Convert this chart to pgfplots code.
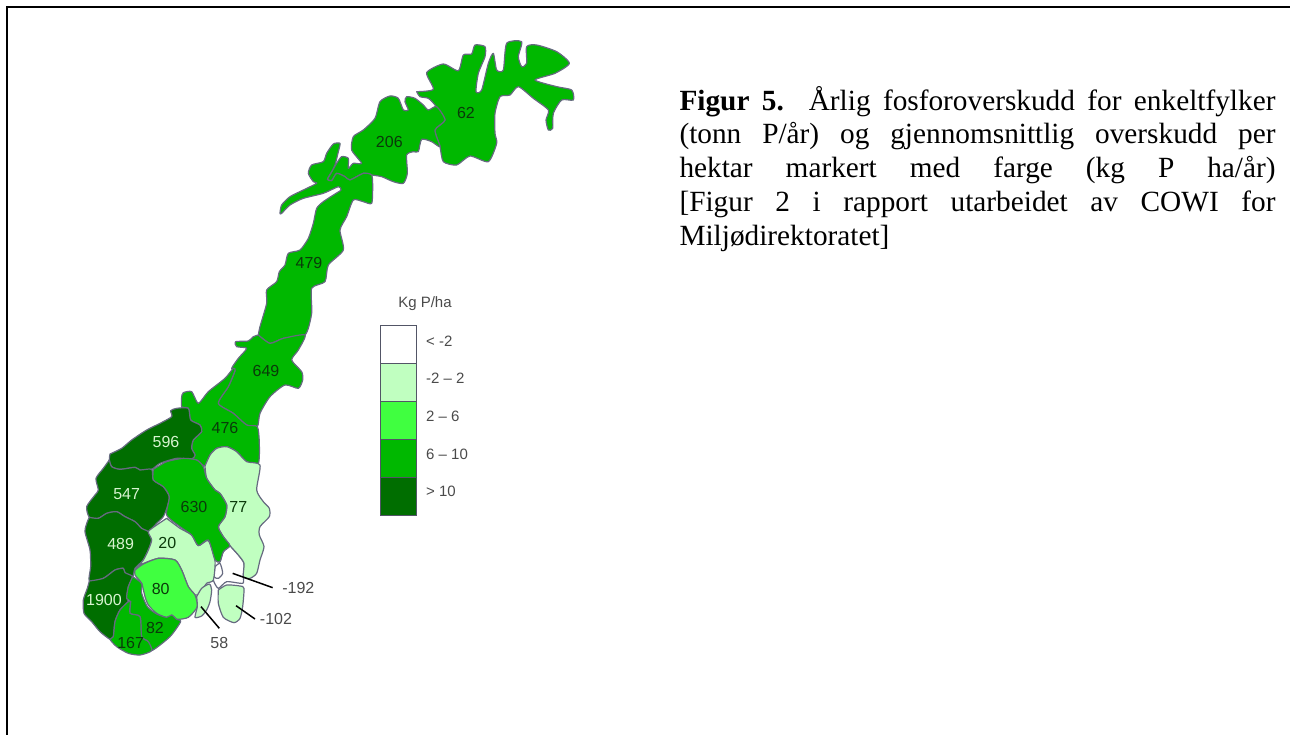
\documentclass[border=0pt]{standalone}
\usepackage{pgfplots}
\pgfplotsset{compat=1.18}
\usepackage{fontspec}
\setmainfont{Liberation Serif}
\newfontfamily\arial{Liberation Sans}
\definecolor{cLight}{HTML}{C0FFC0}
\definecolor{cBright}{HTML}{40FF40}
\definecolor{cMid}{HTML}{00B800}
\definecolor{cDark}{HTML}{006E00}
\definecolor{cEdge}{HTML}{666A80}
\definecolor{cTxt}{HTML}{4A4A4A}
\definecolor{cTxtD}{HTML}{0A3A0A}
\definecolor{cTxtL}{HTML}{D8F4D0}
\pgfplotsset{
  reg/.style={fill=#1,draw=cEdge,line width=1.2pt,line join=round,no markers,smooth,tension=0.4},
  leg/.style={fill=#1,draw=cEdge!80!black,line width=1pt,no markers},
}
\tikzset{
  lab/.style={font=\arial\fontsize{16}{16}\selectfont,inner sep=0pt,anchor=center},
  lg/.style={text=cTxt,inner sep=0pt,font=\arial\fontsize{15}{15}\selectfont},
}
\newcommand{\capline}[1]{\makebox[596pt][s]{#1}}
\begin{document}
\begin{tikzpicture}
\useasboundingbox (0,0) rectangle (1290pt,735pt);
\begin{axis}[at={(0,0)},anchor=south west,width=1290pt,height=735pt,scale only axis,
  xmin=0,xmax=3870,ymin=0,ymax=2205,y dir=reverse,hide axis,clip=false]
% frame
\addplot[black,line width=2pt,no markers] coordinates {(21,2205)(21,21)(3870,21)};
% Finnmark 62
\addplot[reg=cMid] coordinates {(1250,275)(1300,268)(1280,218)(1330,192)(1375,212)(1390,165)(1415,162)(1425,135)(1455,140)(1455,170)(1435,220)(1428,275)(1445,270)(1465,190)(1480,160)(1490,210)(1510,210)(1520,130)(1565,125)(1555,170)(1565,200)(1580,190)(1580,140)(1610,135)(1670,155)(1708,190)(1665,220)(1605,240)(1670,260)(1715,270)(1720,300)(1685,300)(1660,340)(1658,385)(1645,390)(1638,360)(1645,330)(1600,295)(1555,260)(1530,285)(1500,290)(1485,340)(1485,400)(1490,430)(1465,485)(1410,468)(1370,495)(1330,485)(1320,440)(1305,390)(1335,360)(1305,315)(1285,295)(1260,290)(1250,275)} -- cycle;
% Troms 206
\addplot[reg=cMid] coordinates {(982,538)(995,515)(1010,490)(1025,470)(1045,475)(1045,505)(1060,490)(1085,490)(1055,450)(1060,410)(1090,390)(1125,355)(1140,305)(1170,288)(1195,295)(1210,330)(1225,330)(1215,305)(1220,290)(1245,295)(1270,315)(1285,330)(1310,320)(1335,360)(1305,390)(1320,440)(1295,425)(1265,418)(1255,455)(1240,455)(1220,465)(1222,520)(1210,550)(1180,545)(1145,530)(1115,525)(1090,520)(1050,540)(1035,530)(1010,520)(995,542)(982,538)} -- cycle;
% Nordland 479
\addplot[reg=cMid] coordinates {(775,1005)(780,980)(800,910)(800,870)(830,845)(838,815)(855,795)(865,760)(900,750)(925,715)(940,670)(950,625)(970,605)(1005,582)(1023,570)(1015,560)(970,580)(910,595)(870,615)(845,640)(840,640)(845,615)(870,590)(910,570)(950,550)(940,545)(925,520)(935,495)(970,485)(980,460)(1000,432)(1020,430)(1015,455)(1005,495)(995,515)(982,538)(995,542)(1010,520)(1035,530)(1050,540)(1090,520)(1115,525)(1118,560)(1115,610)(1090,605)(1060,600)(1040,650)(1020,690)(1030,750)(985,795)(975,845)(935,865)(935,940)(915,1005)(850,1015)(810,1030)(775,1005)} -- cycle;
% Nord-Troendelag 649
\addplot[reg=cMid] coordinates {(775,1005)(810,1030)(850,1015)(915,1005)(895,1050)(875,1080)(905,1115)(908,1140)(895,1165)(855,1155)(810,1190)(780,1240)(772,1280)(740,1275)(700,1240)(655,1210)(685,1160)(705,1112)(695,1105)(715,1075)(740,1045)(710,1040)(707,1025)(745,1023)(760,1010)(775,1005)} -- cycle;
% Soer-Troendelag 476
\addplot[reg=cMid] coordinates {(545,1190)(550,1178)(575,1175)(595,1210)(625,1175)(675,1135)(700,1105)(705,1112)(685,1160)(655,1210)(700,1240)(740,1275)(772,1280)(778,1330)(775,1390)(740,1385)(710,1355)(680,1340)(650,1345)(630,1365)(615,1398)(590,1380)(575,1377)(585,1365)(575,1345)(580,1320)(605,1295)(600,1275)(572,1260)(565,1225)(545,1220)(545,1190)} -- cycle;
% Moere og Romsdal 596
\addplot[reg=cDark] coordinates {(330,1362)(365,1345)(395,1320)(440,1290)(480,1270)(515,1250)(512,1232)(530,1225)(565,1225)(572,1260)(600,1275)(605,1295)(580,1320)(575,1345)(585,1365)(575,1377)(530,1375)(480,1390)(455,1408)(420,1410)(405,1402)(360,1408)(335,1400)(328,1380)(330,1362)} -- cycle;
% Sogn og Fjordane 547
\addplot[reg=cDark] coordinates {(328,1380)(335,1400)(360,1408)(405,1402)(420,1410)(455,1408)(460,1440)(490,1460)(508,1490)(502,1520)(490,1550)(470,1570)(445,1595)(425,1585)(405,1565)(375,1550)(350,1535)(320,1540)(295,1555)(268,1552)(260,1520)(285,1485)(295,1470)(288,1435)(310,1405)(328,1380)} -- cycle;
% Hordaland 489
\addplot[reg=cDark] coordinates {(268,1552)(295,1555)(320,1540)(350,1535)(375,1550)(405,1565)(425,1585)(445,1595)(455,1620)(445,1650)(430,1680)(405,1705)(398,1730)(375,1718)(370,1705)(345,1710)(310,1735)(268,1743)(272,1700)(270,1650)(255,1595)(262,1565)(268,1552)} -- cycle;
% Rogaland 1900
\addplot[reg=cDark] coordinates {(268,1743)(310,1735)(345,1710)(370,1705)(375,1718)(398,1730)(385,1760)(380,1795)(385,1805)(360,1830)(345,1865)(340,1910)(330,1918)(300,1895)(275,1865)(252,1840)(250,1800)(262,1765)(268,1743)} -- cycle;
% Oslo/Akershus -192
\addplot[reg=white] coordinates {(690,1637)(715,1665)(732,1690)(730,1730)(728,1750)(680,1745)(655,1765)(640,1740)(642,1710)(660,1685)(670,1655)(690,1637)} -- cycle;
\addplot[reg=white] coordinates {(645,1700)(660,1690)(668,1720)(655,1735)(642,1730)(645,1700)} -- cycle;
% Hedmark 77
\addplot[reg=cLight] coordinates {(615,1398)(630,1365)(650,1345)(680,1340)(710,1355)(740,1385)(780,1395)(770,1470)(790,1505)(808,1525)(808,1550)(780,1580)(778,1605)(792,1640)(780,1680)(770,1720)(750,1735)(730,1730)(732,1690)(715,1665)(690,1637)(670,1610)(655,1580)(675,1550)(680,1515)(660,1480)(645,1470)(620,1435)(615,1398)} -- cycle;
% Buskerud 20
\addplot[reg=cLight] coordinates {(500,1555)(540,1585)(575,1605)(595,1637)(625,1622)(645,1680)(640,1740)(620,1750)(600,1780)(585,1785)(565,1760)(545,1710)(525,1680)(475,1675)(420,1695)(405,1710)(430,1680)(445,1650)(455,1620)(445,1595)(470,1575)(500,1555)} -- cycle;
% Oppland 630
\addplot[reg=cMid] coordinates {(460,1408)(500,1385)(550,1375)(590,1380)(610,1400)(620,1435)(645,1470)(660,1480)(680,1515)(675,1550)(655,1580)(670,1610)(690,1637)(670,1655)(660,1685)(645,1680)(625,1620)(595,1637)(575,1605)(540,1580)(500,1545)(508,1490)(490,1460)(460,1440)(460,1408)} -- cycle;
% Telemark 80
\addplot[reg=cBright] coordinates {(405,1710)(430,1692)(475,1675)(525,1680)(545,1710)(565,1760)(585,1785)(592,1820)(565,1852)(530,1858)(515,1845)(505,1855)(470,1840)(445,1815)(435,1790)(425,1750)(405,1725)(405,1710)} -- cycle;
% Aust-Agder 82
\addplot[reg=cMid] coordinates {(398,1730)(425,1750)(425,1780)(442,1820)(470,1842)(500,1852)(515,1845)(530,1858)(542,1865)(510,1910)(455,1952)(445,1925)(425,1910)(420,1850)(390,1840)(392,1805)(380,1795)(385,1760)(398,1730)} -- cycle;
% Vest-Agder 167
\addplot[reg=cMid] coordinates {(392,1805)(390,1840)(420,1850)(425,1910)(445,1925)(455,1952)(420,1965)(385,1960)(350,1940)(330,1918)(340,1910)(345,1865)(360,1830)(385,1805)(392,1805)} -- cycle;
% Vestfold 58
\addplot[reg=cLight] coordinates {(590,1790)(605,1765)(628,1752)(635,1770)(630,1805)(620,1830)(605,1848)(585,1852)(592,1820)(590,1790)} -- cycle;
% Oestfold -102
\addplot[reg=cLight] coordinates {(655,1770)(680,1755)(720,1758)(732,1765)(728,1820)(720,1855)(702,1868)(670,1852)(655,1810)(655,1770)} -- cycle;
% leaders
\addplot[black,line width=1.5pt,no markers] coordinates {(698,1720)(818,1763)};
\addplot[black,line width=1.5pt,no markers] coordinates {(708,1817)(765,1857)};
\addplot[black,line width=1.5pt,no markers] coordinates {(603,1820)(658,1885)};
% legend swatches
\addplot[leg=white] coordinates {(1140,975)(1248,975)(1248,1090)(1140,1090)} -- cycle;
\addplot[leg=cLight] coordinates {(1140,1090)(1248,1090)(1248,1203)(1140,1203)} -- cycle;
\addplot[leg=cBright] coordinates {(1140,1203)(1248,1203)(1248,1317)(1140,1317)} -- cycle;
\addplot[leg=cMid] coordinates {(1140,1317)(1248,1317)(1248,1432)(1140,1432)} -- cycle;
\addplot[leg=cDark] coordinates {(1140,1432)(1248,1432)(1248,1545)(1140,1545)} -- cycle;
% legend text
\node[lg] at (axis cs:1275,910) {Kg P/ha};
\node[lg,anchor=west] at (axis cs:1278,1023) {< -2};
\node[lg,anchor=west] at (axis cs:1278,1135) {-2 – 2};
\node[lg,anchor=west] at (axis cs:1278,1250) {2 – 6};
\node[lg,anchor=west] at (axis cs:1278,1362) {6 – 10};
\node[lg,anchor=west] at (axis cs:1278,1473) {> 10};
% map labels
\node[lab,text=cTxtL] at (axis cs:498,1325) {596};
\node[lab,text=cTxtL] at (axis cs:380,1482) {547};
\node[lab,text=cTxtL] at (axis cs:362,1632) {489};
\node[lab,text=cTxtL] at (axis cs:312,1800) {1900};
\node[lab,text=cTxtD] at (axis cs:582,1520) {630};
\node[lab,text=cTxtD] at (axis cs:715,1522) {77};
\node[lab,text=cTxtD] at (axis cs:502,1630) {20};
\node[lab,text=cTxtD] at (axis cs:482,1768) {80};
\node[lab,text=cTxtD] at (axis cs:465,1885) {82};
\node[lab,text=cTxtD] at (axis cs:392,1930) {167};
\node[lab,text=cTxtD] at (axis cs:675,1285) {476};
\node[lab,text=cTxtD] at (axis cs:798,1113) {649};
\node[lab,text=cTxtD] at (axis cs:927,790) {479};
\node[lab,text=cTxtD] at (axis cs:1168,425) {206};
\node[lab,text=cTxtD] at (axis cs:1398,340) {62};
\node[lab,text=cTxt] at (axis cs:895,1765) {-192};
\node[lab,text=cTxt] at (axis cs:828,1857) {-102};
\node[lab,text=cTxt] at (axis cs:658,1930) {58};
% caption
\node[anchor=north west,inner sep=0pt,align=left,
  font=\fontsize{29.3}{33.75}\selectfont] at (axis cs:2038,258)
  {\capline{\textbf{Figur 5.} Årlig fosforoverskudd for enkeltfylker}\\
   \capline{(tonn P/år) og gjennomsnittlig overskudd per}\\
   \capline{hektar markert med farge (kg P ha/år)}\\
   \capline{[Figur 2 i rapport utarbeidet av COWI for}\\
   Miljødirektoratet]};
\end{axis}
\end{tikzpicture}
\end{document}
